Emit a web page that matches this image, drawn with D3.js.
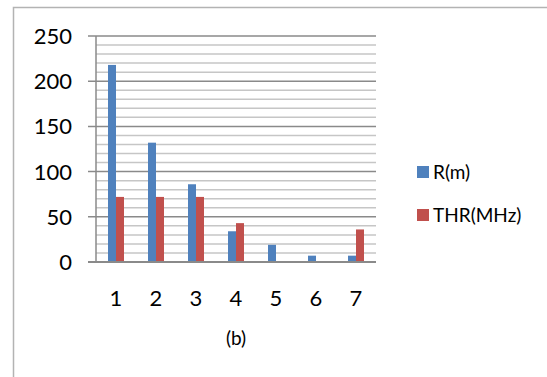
<!DOCTYPE html>
<html><head><meta charset="utf-8">
<script src="https://cdn.jsdelivr.net/npm/d3@7/dist/d3.min.js"></script>
<style>body{margin:0;background:#fff}svg{display:block}</style>
</head><body>
<script>
const categories = ["1","2","3","4","5","6","7"];
const seriesNames = ["R(m)","THR(MHz)"];
const rValues = [218,132,86,34,19,7,7];
const thrValues = [72,72,72,43,0,0,36];
const yTicks = [0,50,100,150,200,250];
const minorTicks = d3.range(0,251,10);
const colors = ["#4F81BD","#C0504D"];
const caption = "(b)";

(function(){
const W=547,H=377;
const svg=d3.select("body").append("svg").attr("width",W).attr("height",H);
const font="Lato, 'Open Sans', sans-serif";

// outer frame
svg.append("rect").attr("x",13.5).attr("y",7.5).attr("width",W+10).attr("height",H+10)
  .attr("fill","none").attr("stroke","#b3b3b3").attr("stroke-width",1.5);

const pL=96,pR=376,pT=36,pB=262;
const x=d3.scaleBand().domain(categories).range([pL,pR]);
const y=d3.scaleLinear().domain([0,250]).range([pB,pT]);

// minor gridlines
svg.append("g").selectAll("line").data(minorTicks.filter(v=>v%50!==0)).join("line")
  .attr("x1",pL).attr("x2",pR).attr("y1",d=>y(d)).attr("y2",d=>y(d))
  .attr("stroke","#c6c6c6").attr("stroke-width",1.5);
// major gridlines (extend as ticks)
svg.append("g").selectAll("line").data(yTicks.filter(v=>v>0)).join("line")
  .attr("x1",pL-8).attr("x2",pR).attr("y1",d=>y(d)).attr("y2",d=>y(d))
  .attr("stroke","#8a8a8a").attr("stroke-width",1.5);

// bars
const bw=8;
const data=categories.map((c,i)=>({c,vals:[rValues[i],thrValues[i]]}));
const g=svg.append("g");
data.forEach(d=>{
  d.vals.forEach((v,k)=>{
    const cx=x(d.c)+x.bandwidth()/2;
    g.append("rect").attr("x",cx-bw+k*bw).attr("width",bw)
      .attr("y",y(v)).attr("height",pB-y(v)).attr("fill",colors[k]);
  });
});

// y axis line
svg.append("line").attr("x1",pL).attr("x2",pL).attr("y1",pT).attr("y2",pB)
  .attr("stroke","#8a8a8a").attr("stroke-width",1.5);
// x axis line
svg.append("line").attr("x1",pL-8).attr("x2",pR).attr("y1",pB).attr("y2",pB)
  .attr("stroke","#8a8a8a").attr("stroke-width",2);

// y labels
svg.append("g").selectAll("text").data(yTicks).join("text")
  .attr("x",72).attr("y",d=>y(d)).attr("dy","0.36em").attr("text-anchor","end")
  .attr("font-family",font).attr("font-size",22).attr("fill","#000").text(d=>d);
// x labels
svg.append("g").selectAll("text").data(categories).join("text")
  .attr("x",d=>x(d)+x.bandwidth()/2).attr("y",306).attr("text-anchor","middle")
  .attr("font-family",font).attr("font-size",22).attr("fill","#000").text(d=>d);
// caption
svg.append("text").attr("x",(pL+pR)/2).attr("y",345).attr("text-anchor","middle")
  .attr("font-family",font).attr("font-size",19).attr("fill","#000").text(caption);

// legend
const lg=svg.append("g");
seriesNames.forEach((n,k)=>{
  const yy=166+k*43;
  lg.append("rect").attr("x",417).attr("y",yy).attr("width",12).attr("height",12).attr("fill",colors[k]);
  lg.append("text").attr("x",433).attr("y",yy+6).attr("dy","0.36em")
    .attr("font-family",font).attr("font-size",19).attr("fill","#000").text(n);
});
})();
</script>
</body></html>
